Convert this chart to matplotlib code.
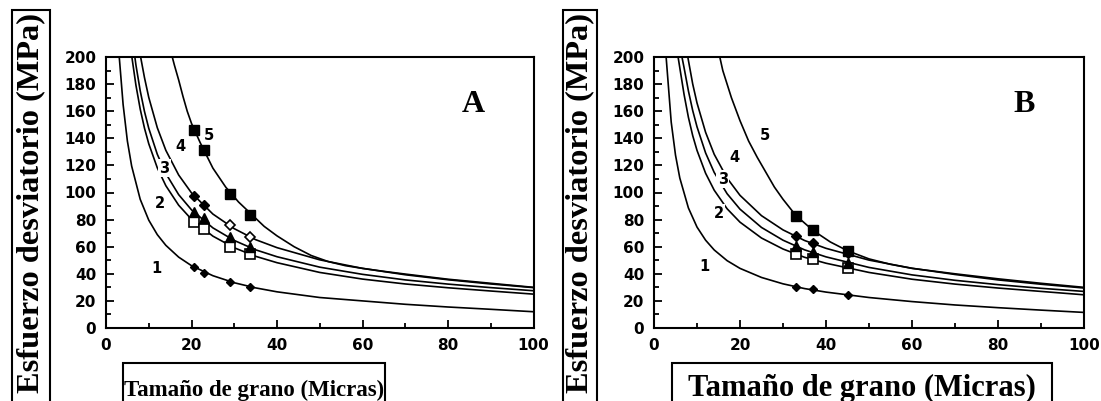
import matplotlib.pyplot as plt
from matplotlib.patches import Rectangle
from matplotlib.ticker import MultipleLocator

# ---- panel A: curves (grain size um, stress MPa)
a_x1 = [3.1, 4, 5, 6, 8, 10, 12, 14, 17, 20, 25, 30, 35, 40, 50, 60, 70, 80, 90, 100]
a_y1 = [200, 165, 138, 119.5, 95, 79.6, 68.9, 61, 52.3, 46, 38.6, 33.4, 29.6, 26.7, 22.5, 20, 17.5, 15.5, 13.8, 12]
a_x2 = [6.05, 7, 8, 9, 10, 12, 14, 17, 20, 25, 30, 35, 40, 50, 60, 70, 80, 90, 100]
a_y2 = [200, 179.2, 161.6, 147.5, 136, 118.2, 105, 90.6, 80.2, 67.8, 59.2, 52.9, 48.2, 41, 36.1, 32.5, 29.7, 27.3, 25]
a_x3 = [6.75, 7, 8, 9, 10, 12, 14, 17, 20, 25, 30, 35, 40, 50, 60, 70, 80, 90, 100]
a_y3 = [200, 194.1, 175.1, 159.8, 147.4, 128.2, 114, 98.4, 87.2, 73.9, 64.6, 57.7, 52.6, 44.9, 39.6, 35.5, 32.4, 29.8, 27.5]
a_x4 = [8.1, 9, 10, 12, 14, 17, 20, 25, 30, 35, 40, 50, 60, 70, 80, 90, 100]
a_y4 = [200, 184.8, 170.2, 147.8, 131.1, 112.9, 99.7, 84.1, 73.3, 65.2, 59.3, 50.3, 44, 39.3, 35.6, 32.5, 29.8]
a_x5 = [15.5, 16, 17, 18, 19, 20, 22, 25, 28, 31, 34, 37, 40, 44, 48, 52, 56, 60, 65, 70, 80, 90, 100]
a_y5 = [200, 194, 183, 171, 160, 151, 137, 118, 104, 93, 84, 75, 68, 60, 53.5, 49, 46, 44, 41.8, 39.8, 36, 33, 30]

# panel A measured points
a_px = [20.6, 23, 29.1, 33.7]
a_p1 = [45.2, 40.4, 34, 30.5]
a_p2 = [78.5, 73, 60, 54.6]
a_p3 = [85.4, 81, 67, 59.6]
a_p4 = [97.6, 90.5, 76, 67.4]
a_p5 = [146, 131, 98.7, 83.6]

# ---- panel B
b_x1 = [2.82, 4, 5, 6, 8, 10, 12, 14, 17, 20, 25, 30, 35, 40, 50, 60, 70, 80, 90, 100]
b_y1 = [200, 152, 127.6, 110.7, 88.6, 74.5, 64.8, 57.6, 49.7, 44, 37.3, 32.6, 29.1, 26.5, 22.5, 19.5, 17, 15, 13.2, 11.5]
b_x2 = [5.6, 7, 8, 9, 10, 12, 14, 17, 20, 25, 30, 35, 40, 50, 60, 70, 80, 90, 100]
b_y2 = [200, 172.2, 155.5, 142, 131.1, 114.2, 101.7, 88, 78.1, 66.4, 58.3, 52.2, 47.8, 41, 36, 32.4, 29.5, 27, 24.5]
b_x3 = [6.5, 7, 8, 9, 10, 12, 14, 17, 20, 25, 30, 35, 40, 50, 60, 70, 80, 90, 100]
b_y3 = [200, 192, 175, 160.5, 148.5, 129.2, 114.8, 99.1, 87.7, 74.2, 64.8, 57.7, 52.5, 44.7, 39.2, 35.2, 32, 29.3, 27]
b_x4 = [7.86, 9, 10, 12, 14, 17, 20, 25, 30, 35, 40, 50, 60, 70, 80, 90, 100]
b_y4 = [200, 180.1, 166.1, 144.4, 128.2, 110.6, 97.9, 82.9, 72.4, 64.6, 58.8, 50.1, 44.1, 39.5, 35.5, 32.3, 29.5]
b_x5 = [15.3, 16, 18, 20, 22, 24, 26, 28, 30, 33, 37, 41, 45, 50, 55, 60, 70, 80, 90, 100]
b_y5 = [200, 190, 170, 153, 138, 126, 115, 104, 95, 83, 72, 63.5, 57, 51, 47, 44, 40, 36.3, 33, 30]

b_px = [33, 37, 45.1]
b_p1 = [30.5, 28.5, 24.4]
b_p2 = [54.6, 50.7, 44]
b_p3 = [60.5, 56.3, 48.2]
b_p4 = [67.9, 63, 55]
b_p5 = [82.7, 72.3, 57]

curve_names = ["1", "2", "3", "4", "5"]
a_lab_x = [11.8, 12.6, 13.7, 17.3, 24.1]
a_lab_y = [44, 92, 118, 134, 142.4]
b_lab_x = [11.8, 15.1, 16, 18.8, 25.7]
b_lab_y = [45.2, 84.6, 109.7, 126, 141.7]

tick_font = dict(family="DejaVu Sans", weight="bold", size=11)
serif = "Liberation Serif"
W, H = 1101, 401

fig = plt.figure(figsize=(11.01, 4.01), dpi=100)
ax_a = fig.add_axes([106 / W, 73 / H, 427.5 / W, 271 / H])
ax_b = fig.add_axes([654 / W, 73 / H, 430 / W, 271 / H])


def draw_panel(ax, curves, px, pts, open4, lab_x, lab_y, letter):
    for cx, cy in curves:
        ax.plot(cx, cy, color="black", lw=1.2, zorder=2)
    p1, p2, p3, p4, p5 = pts
    ax.plot(px, p1, "D", color="black", ms=4, zorder=3)
    ax.plot(px, p2, "s", mfc="white", mec="black", mew=1.2, ms=6.5, zorder=3)
    ax.plot(px, p3, "^", color="black", ms=6.5, zorder=3)
    n = len(px) - open4
    ax.plot(px[:n], p4[:n], "D", color="black", ms=5, zorder=3)
    if open4:
        ax.plot(px[n:], p4[n:], "D", mfc="white", mec="black", mew=1.2, ms=5, zorder=3)
    ax.plot(px, p5, "s", color="black", ms=7.5, zorder=3)
    for name, lx, ly in zip(curve_names, lab_x, lab_y):
        ax.text(lx, ly, name, ha="center", va="center", fontsize=10.5,
                fontweight="bold", zorder=4,
                bbox=dict(boxstyle="square,pad=0.1", fc="white", ec="none"))
    ax.text(86, 165, letter, ha="center", va="center", fontsize=23,
            fontweight="bold", family=serif)

    ax.set_xlim(0, 100)
    ax.set_ylim(0, 200)
    ax.xaxis.set_major_locator(MultipleLocator(20))
    ax.xaxis.set_minor_locator(MultipleLocator(10))
    ax.yaxis.set_major_locator(MultipleLocator(20))
    ax.yaxis.set_minor_locator(MultipleLocator(10))
    ax.tick_params(which="both", direction="in", width=1.3, top=False, right=False)
    ax.tick_params(which="major", length=6, pad=7)
    ax.tick_params(which="minor", length=3.5)
    for lab in ax.get_xticklabels() + ax.get_yticklabels():
        lab.set(**tick_font)
    for sp in ax.spines.values():
        sp.set_linewidth(1.5)


draw_panel(ax_a, [(a_x1, a_y1), (a_x2, a_y2), (a_x3, a_y3), (a_x4, a_y4), (a_x5, a_y5)],
           a_px, (a_p1, a_p2, a_p3, a_p4, a_p5), 2, a_lab_x, a_lab_y, "A")
draw_panel(ax_b, [(b_x1, b_y1), (b_x2, b_y2), (b_x3, b_y3), (b_x4, b_y4), (b_x5, b_y5)],
           b_px, (b_p1, b_p2, b_p3, b_p4, b_p5), 0, b_lab_x, b_lab_y, "B")


def label_box(x0, x1, top):
    # open-bottomed frame running off the lower edge, as in the scan
    fig.patches.append(Rectangle((x0 / W, -0.05), (x1 - x0) / W, 1 - top / H + 0.05,
                                 transform=fig.transFigure, fc="white",
                                 ec="black", lw=1.5, zorder=1))


ylab = "Esfuerzo desviatorio (MPa)"
xlab = "Tamaño de grano (Micras)"
label_box(12, 50, 10)
label_box(563, 597, 10)
label_box(123, 385, 363)
label_box(672, 1052, 363)
fig.text(31 / W, 1 - 13 / H, ylab, rotation=90, ha="center", va="top",
         fontsize=23.3, fontweight="bold", family=serif, zorder=2)
fig.text(580 / W, 1 - 13 / H, ylab, rotation=90, ha="center", va="top",
         fontsize=23.3, fontweight="bold", family=serif, zorder=2)
fig.text(254 / W, 1 - 396 / H, xlab, ha="center", va="baseline",
         fontsize=16.5, fontweight="bold", family=serif, zorder=2)
fig.text(862 / W, 1 - 396 / H, xlab, ha="center", va="baseline",
         fontsize=22, fontweight="bold", family=serif, zorder=2)

fig.savefig("out.png", dpi=100)
